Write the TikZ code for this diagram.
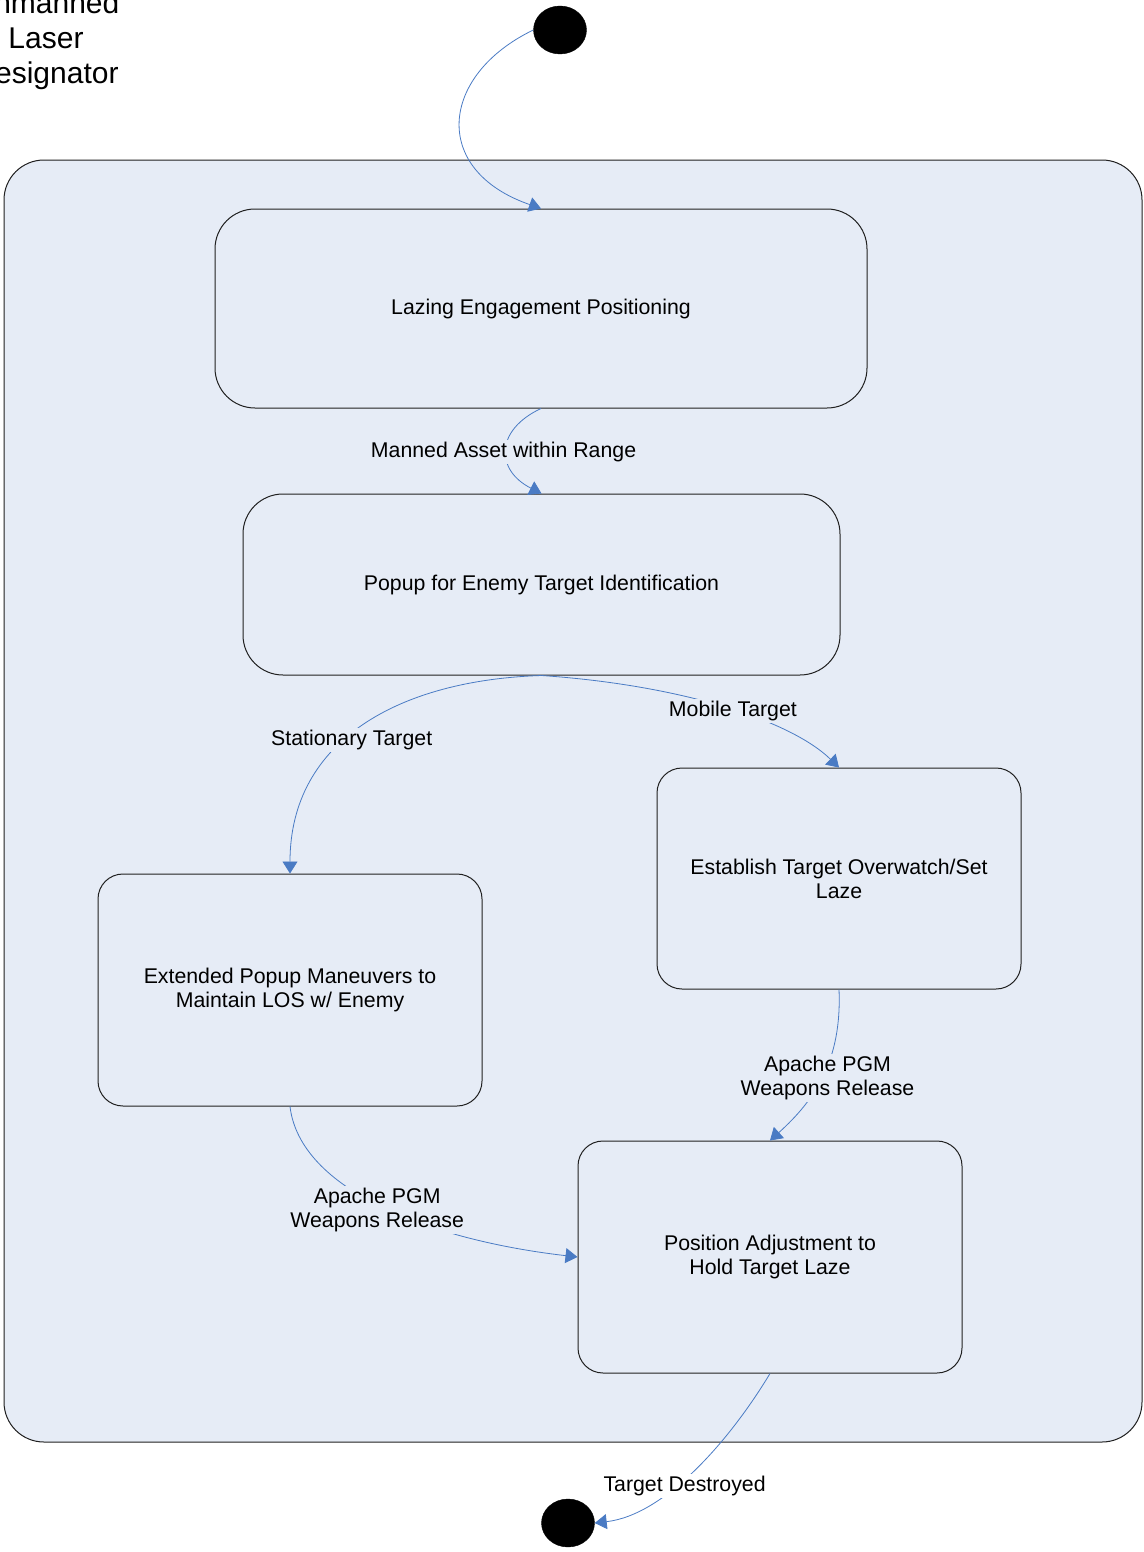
\documentclass[tikz,border=0pt]{standalone}
\usepackage{fontspec}
\setmainfont{Liberation Sans}
\usetikzlibrary{arrows.meta,shapes.geometric}
\definecolor{statefill}{HTML}{E6ECF6}
\definecolor{transblue}{HTML}{4A7BC4}
\definecolor{stateline}{HTML}{202020}
\tikzset{
  state/.style={draw=stateline, line width=1pt, fill=statefill, rounded corners=#1,
    inner sep=0pt, align=center, font=\fontsize{21.3}{24}\selectfont},
  state/.default=40,
  dot/.style={ellipse, fill=black, draw=black, inner sep=0pt, minimum width=53, minimum height=48},
  trans/.style={draw=transblue, line width=0.8pt, -{Triangle[length=12pt,width=15pt]}},
  lbl/.style={fill=statefill, inner sep=2pt, align=center, font=\fontsize{21.3}{24}\selectfont},
  title/.style={align=center, font=\fontsize{30}{35}\selectfont}
}
\begin{document}
\begin{tikzpicture}[x=1pt, y=-1pt]
\useasboundingbox (0,0) rectangle (1143,1552);
% composite state
\node[state, minimum width=1138, minimum height=1282] (outer) at (573,801) {};
\node[title] (titletext) at (46,41) {Unmanned\\Laser\\Designator};
% pseudo states
\node[dot] (start) at (560,30) {};
\node[dot] (finish) at (568,1523) {};
% states
\node[state, minimum width=652, minimum height=199] (lazing) at (541,308.5) {Lazing Engagement Positioning};
\node[state, minimum width=597, minimum height=181] (popup) at (541.5,584.5) {Popup for Enemy Target Identification};
\node[state=25, minimum width=364, minimum height=221] (establish) at (839,878.5) {Establish Target Overwatch/Set\\Laze};
\node[state=25, minimum width=384, minimum height=232] (extended) at (290,990) {Extended Popup Maneuvers to\\Maintain LOS w/ Enemy};
\node[state=25, minimum width=384, minimum height=232] (position) at (770,1257) {Position Adjustment to\\Hold Target Laze};
% transitions
\draw[trans] (start.west) .. controls (440,75) and (430,170) .. (lazing.north);
\draw[trans] (lazing.south) .. controls (495,430) and (495,470) .. (popup.north)
  node[lbl, pos=0.5, xshift=-3pt, yshift=-2pt] (lblrange) {Manned Asset within Range};
\draw[trans] (popup.south) .. controls (400,680) and (290,740) .. (extended.north)
  node[lbl, pos=0.55, xshift=2pt, yshift=-4pt] (lblstationary) {Stationary Target};
\draw[trans] (popup.south) .. controls (680,685) and (790,720) .. (establish.north)
  node[lbl, pos=0.52, xshift=3pt, yshift=-2pt] (lblmobile) {Mobile Target};
\draw[trans] (establish.south) .. controls (842,1060) and (815,1100) .. (position.north)
  node[lbl, pos=0.5, xshift=5pt, yshift=-2pt] (lblreleaseright) {Apache PGM\\Weapons Release};
\draw[trans] (extended.south) .. controls (300,1190) and (430,1240) .. (position.west)
  node[lbl, pos=0.5, xshift=-5pt, yshift=-3pt] (lblreleaseleft) {Apache PGM\\Weapons Release};
\draw[trans] (position.south) .. controls (730,1440) and (665,1515) .. (finish.east)
  node[lbl, fill=white, pos=0.55, yshift=-8pt] (lbldestroyed) {Target Destroyed};
\end{tikzpicture}
\end{document}
